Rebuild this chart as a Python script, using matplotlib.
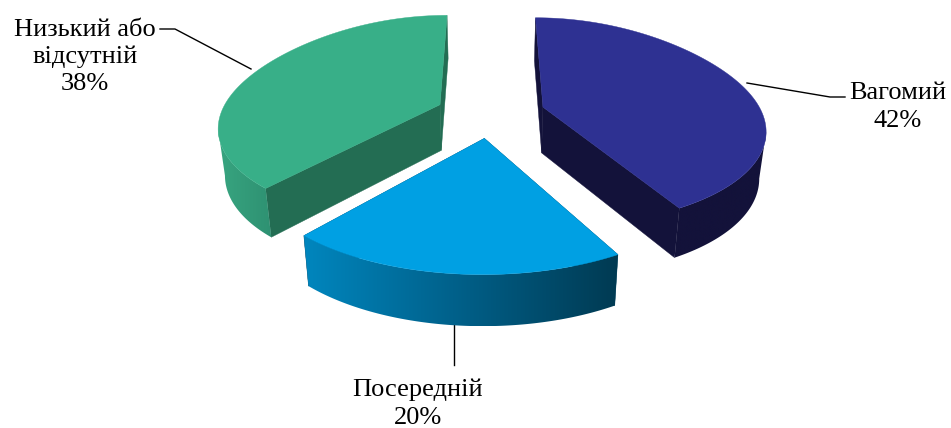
import numpy as np
import matplotlib
matplotlib.use("Agg")
import matplotlib.pyplot as plt
from matplotlib.colors import LinearSegmentedColormap
from matplotlib.patches import Polygon

names = ["Вагомий", "Посередній", "Низький або\nвідсутній"]
values = [42, 20, 38]
# shares, a bit finer than the rounded labels
shares = [42.1, 19.2, 38.7]
top_colors = ["#2E3192", "#00A0E3", "#38AF88"]
wall_colors = ["#13123A", "#00415E", "#236D53"]
rim_colors = [["#13123A", "#13123A"],
              ["#0086BE", "#005F88", "#003A52"],
              ["#38A580", "#2E9172"]]

# projection of the pie plane to pixels
CX, CY = 490.5, 113
RX, RY = 219, 97
PERSP1, PERSP2 = 0.2, 0.054
BACK_STRETCH = 0.08
HEIGHT = 46
BOTTOM_SHRINK = 0.975
EXPLODE = 0.25


def project(u, v, z=0.0):
    # u right, v towards viewer, z 0 = top face, 1 = bottom face
    v = np.asarray(v, dtype=float)
    s = 1 + PERSP1 * v + PERSP2 * v ** 2
    stretch = 1 + BACK_STRETCH * np.minimum(v, 0) ** 2
    x = CX + RX * u * s * (1 - (1 - BOTTOM_SHRINK) * z)
    y = CY + RY * v * s * stretch + HEIGHT * z * s ** 0.4
    return x, y


def draw_slice(ax, start, end, top, wall, rim):
    mid = np.radians((start + end) / 2)
    ou, ov = EXPLODE * np.sin(mid), -EXPLODE * np.cos(mid)
    ang = np.radians(np.linspace(start, end, 200))
    u = ou + np.sin(ang)
    v = ov - np.cos(ang)

    # flat side walls
    for i in [0, -1]:
        xs = [project(ou, ov, 0), project(u[i], v[i], 0), project(u[i], v[i], 1), project(ou, ov, 1)]
        ax.fill(*zip(*xs), color=wall, lw=0.3, zorder=2)

    # outer wall: gradient left to right, clipped to the wall outline
    xt, yt = project(u, v, 0)
    xb, yb = project(u, v, 1)
    # only the part of the rim facing the viewer, the polygon folds over behind it
    keep = np.r_[np.diff(xt) < 0, False] | np.r_[False, np.diff(xt) < 0]
    outline = Polygon(np.c_[np.r_[xt[keep], xb[keep][::-1]], np.r_[yt[keep], yb[keep][::-1]]],
                      transform=ax.transData, facecolor="none", edgecolor="none")
    ax.add_patch(outline)
    cmap = LinearSegmentedColormap.from_list("rim", rim)
    grad = np.linspace(0, 1, 256)[None, :]
    x_all = np.r_[xt[keep], xb[keep]]
    im = ax.imshow(grad, cmap=cmap, aspect="auto", zorder=3,
                   extent=(x_all.min(), x_all.max(), yb.max(), yt.min()))
    im.set_clip_path(outline)

    # top face
    ax_x, ax_y = project(ou, ov, 0)
    ax.fill(np.r_[ax_x, xt], np.r_[ax_y, yt], color=top, lw=0.3, zorder=4)


fig = plt.figure(figsize=(9.51, 4.28), dpi=100)
ax = fig.add_axes([0, 0, 1, 1])
ax.axis("off")

angle = 0
for val, top, wall, rim in zip(shares, top_colors, wall_colors, rim_colors):
    step = val / sum(shares) * 360
    draw_slice(ax, angle, angle + step, top, wall, rim)
    angle += step

ax.set_xlim(0, 951)
ax.set_ylim(428, 0)

# leader lines
ax.plot([747, 830, 845], [83, 97, 97], color="black", lw=1, zorder=1)
ax.plot([454, 454], [324, 365], color="black", lw=1, zorder=1)
ax.plot([160, 175, 251], [29, 29, 69], color="black", lw=1, zorder=1)

label_pos = [(898, 107), (418, 404), (85, 57)]
label_spacing = [1.39, 1.33, 1.3]
for name, val, (x, y), sp in zip(names, values, label_pos, label_spacing):
    ax.text(x, y, f"{name}\n{val}%", ha="center", va="center", family="Liberation Serif",
            fontsize=19, linespacing=sp, color="black")

fig.savefig("out.png", dpi=100)
